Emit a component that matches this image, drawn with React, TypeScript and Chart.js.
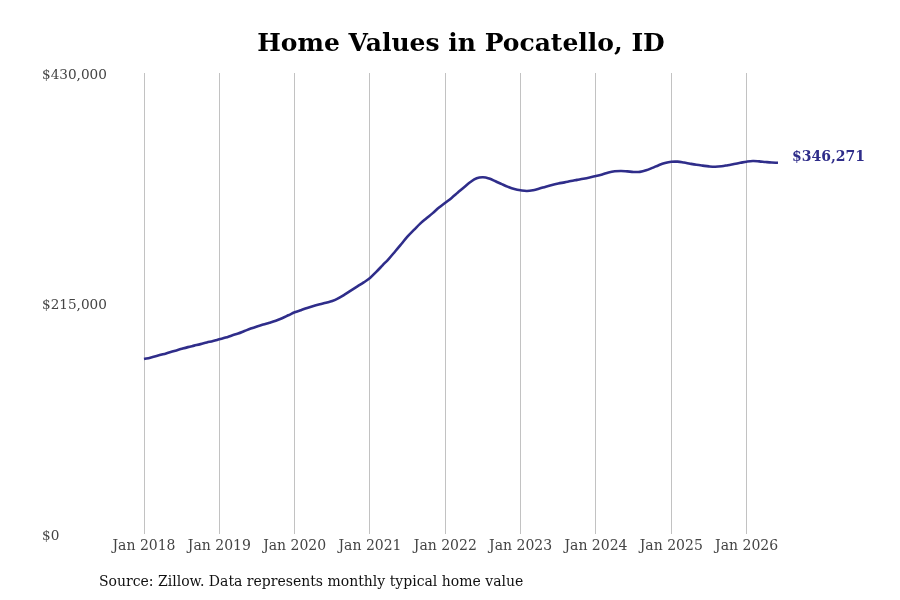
import React, { useEffect, useRef } from 'react';
import Chart from 'chart.js/auto';

// Typical home value, Pocatello ID, monthly from Jan 2018
const years = ['2018', '2019', '2020', '2021', '2022', '2023', '2024', '2025', '2026'];
const monthNames = ['Jan', 'Feb', 'Mar', 'Apr', 'May', 'Jun', 'Jul', 'Aug', 'Sep', 'Oct', 'Nov', 'Dec'];

const values2018 = [163200, 164500, 166000, 167600, 169300, 171000, 172700, 174300, 175700, 177100, 178600, 180000];
const values2019 = [181600, 183200, 185200, 187000, 189300, 191600, 193600, 195400, 197100, 199000, 201300, 204000];
const values2020 = [206800, 208800, 210800, 212600, 214200, 215700, 217300, 220000, 223500, 227300, 231000, 234700];
const values2021 = [238800, 244500, 250600, 256700, 263500, 270500, 277600, 283600, 289500, 294500, 299300, 304500];
const values2022 = [309000, 313500, 318500, 323500, 328300, 331800, 332700, 331500, 329000, 326300, 323800, 321800];
const values2023 = [320600, 320000, 320700, 322200, 324000, 325600, 326900, 328000, 329200, 330300, 331400, 332600];
const values2024 = [333900, 335400, 337200, 338300, 338600, 338200, 337700, 337800, 339200, 341500, 344000, 346000];
const values2025 = [347200, 347300, 346500, 345400, 344400, 343600, 342900, 342600, 343000, 344000, 345100, 346200];
const values2026 = [347300, 347900, 347600, 347000, 346500, 346271];

const homeValues = [
  ...values2018, ...values2019, ...values2020, ...values2021, ...values2022,
  ...values2023, ...values2024, ...values2025, ...values2026,
];

const monthLabels: string[] = [];
years.forEach(y => monthNames.forEach(m => monthLabels.push(`${m} ${y}`)));
const labels = monthLabels.slice(0, homeValues.length);

const yTicks = [0, 215000, 430000];

const LINE_COLOR = '#2f2d8a';
const FONT = "'DejaVu Serif', serif";

const money = (v: number) => '$' + v.toLocaleString('en-US');

const annotate = {
  id: 'annotate',
  afterDatasetsDraw(chart: any) {
    const { ctx } = chart;
    const meta = chart.getDatasetMeta(0);
    const last = meta.data[meta.data.length - 1];
    ctx.save();
    ctx.font = `bold 14px ${FONT}`;
    ctx.fillStyle = LINE_COLOR;
    ctx.textAlign = 'left';
    ctx.textBaseline = 'middle';
    ctx.fillText(money(homeValues[homeValues.length - 1]), last.x + 14, last.y - 5);

    ctx.font = `14px ${FONT}`;
    ctx.fillStyle = '#111';
    ctx.fillText('Source: Zillow. Data represents monthly typical home value', 99, 582);
    ctx.restore();
  },
};

const App: React.FC = () => {
  const canvasRef = useRef<HTMLCanvasElement>(null);

  useEffect(() => {
    document.body.style.margin = '0';
    if (!canvasRef.current) return;

    const chart = new Chart(canvasRef.current, {
      type: 'line',
      data: {
        labels,
        datasets: [{
          data: homeValues,
          borderColor: LINE_COLOR,
          borderWidth: 2.6,
          pointRadius: 0,
          tension: 0.4,
          fill: false,
        }],
      },
      options: {
        animation: false,
        responsive: true,
        maintainAspectRatio: false,
        layout: { padding: { left: 42, right: 122, top: 0, bottom: 36 } },
        plugins: {
          legend: { display: false },
          tooltip: { enabled: false },
          title: {
            display: true,
            text: 'Home Values in Pocatello, ID',
            fullSize: false,
            color: '#000',
            font: { family: FONT, size: 25, weight: 'bold' },
            padding: { top: 29, bottom: 14 },
          },
        },
        scales: {
          x: {
            grid: {
              color: (c: any) => (c.index % 12 === 0 ? '#c2c2c2' : 'transparent'),
              lineWidth: 1,
              drawTicks: false,
            },
            border: { display: false },
            ticks: {
              autoSkip: false,
              maxRotation: 0,
              padding: 4,
              color: '#444',
              font: { family: FONT, size: 14 },
              callback: (_v: any, i: number) => (i % 12 === 0 ? labels[i] : ''),
            },
            afterFit: (axis: any) => { axis.height = 30; },
          },
          y: {
            min: yTicks[0],
            max: yTicks[yTicks.length - 1],
            grid: { display: false },
            border: { display: false },
            afterBuildTicks: (axis: any) => { axis.ticks = yTicks.map(v => ({ value: v })); },
            ticks: {
              crossAlign: 'far',
              labelOffset: 2,
              color: '#444',
              font: { family: FONT, size: 13.6 },
              callback: (v: any) => money(Number(v)),
            },
            afterFit: (axis: any) => { axis.width = 102; },
          },
        },
      },
      plugins: [annotate],
    });

    return () => chart.destroy();
  }, []);

  return (
    <div style={{ width: 900, height: 600, position: 'relative' }}>
      <canvas ref={canvasRef}></canvas>
    </div>
  );
};

export default App;
